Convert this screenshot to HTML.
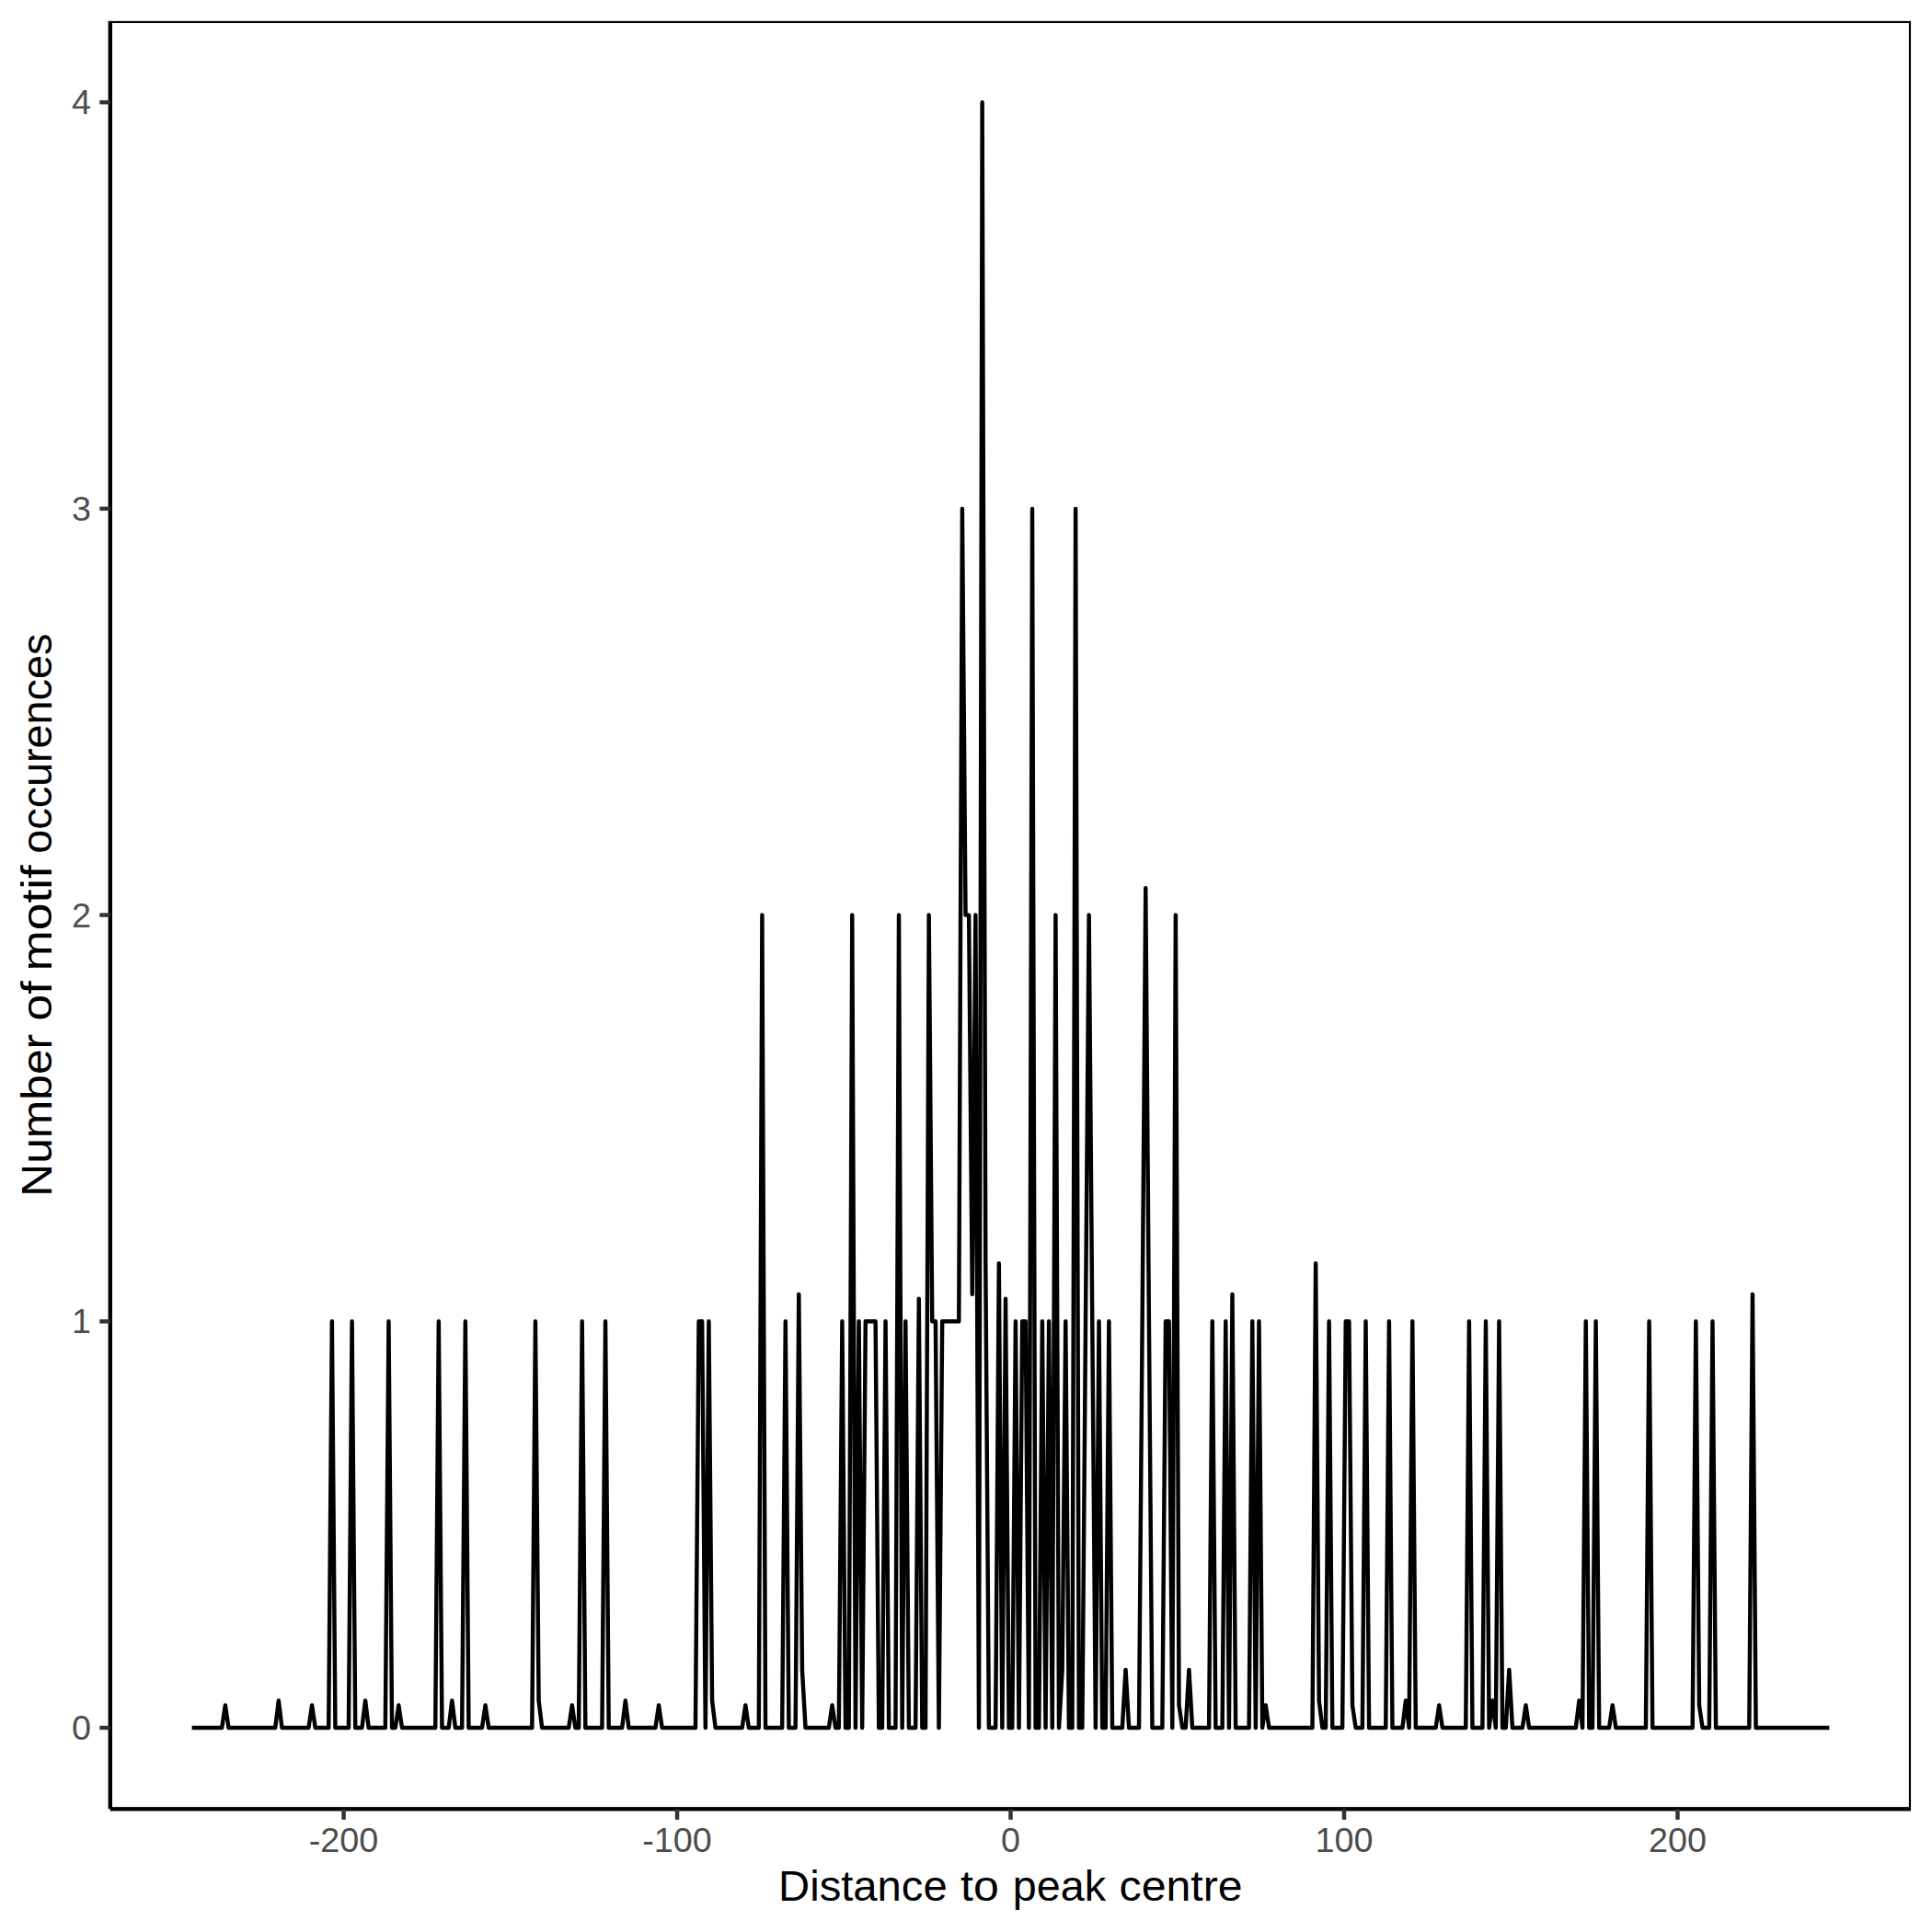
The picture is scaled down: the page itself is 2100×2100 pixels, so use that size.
<!DOCTYPE html>
<html><head><meta charset="utf-8"><title>Motif occurrences</title>
<style>
html,body{margin:0;padding:0;background:#fff;}
body{width:2100px;height:2100px;overflow:hidden;}
svg{display:block;}
svg text{font-family:"Liberation Sans",sans-serif;}
</style></head><body>
<svg width="2100" height="2100" viewBox="0 0 2100 2100">
<rect x="0" y="0" width="2100" height="2100" fill="#ffffff"/>
<rect x="119.8" y="22.9" width="1957.2" height="2.15" fill="#000"/>
<rect x="2074.9" y="22.9" width="2.15" height="1944.5" fill="#000"/>
<polyline fill="none" stroke="#000" stroke-width="4.45" stroke-linejoin="round" stroke-linecap="butt" points="208.60,1878.00 241.22,1878.00 244.85,1853.46 248.47,1878.00 299.22,1878.00 302.84,1848.55 306.47,1878.00 335.46,1878.00 339.09,1853.46 342.71,1878.00 357.21,1878.00 360.84,1436.30 364.46,1878.00 378.96,1878.00 382.59,1436.30 386.21,1878.00 393.46,1878.00 397.08,1848.55 400.71,1878.00 418.83,1878.00 422.46,1436.30 426.08,1878.00 429.71,1878.00 433.33,1853.46 436.96,1878.00 473.20,1878.00 476.83,1436.30 480.45,1878.00 487.70,1878.00 491.33,1848.55 494.95,1878.00 502.20,1878.00 505.83,1436.30 509.45,1878.00 523.95,1878.00 527.57,1853.46 531.20,1878.00 578.32,1878.00 581.94,1436.30 585.57,1848.55 589.19,1878.00 618.19,1878.00 621.82,1853.46 625.44,1878.00 629.07,1878.00 632.69,1436.30 636.31,1878.00 654.44,1878.00 658.06,1436.30 661.69,1878.00 676.19,1878.00 679.81,1848.55 683.44,1878.00 712.43,1878.00 716.06,1853.46 719.68,1878.00 755.93,1878.00 759.55,1436.30 763.18,1436.30 766.80,1878.00 770.43,1436.30 774.05,1848.55 777.68,1878.00 806.68,1878.00 810.30,1853.46 813.92,1878.00 824.80,1878.00 828.42,994.60 832.05,1878.00 850.17,1878.00 853.80,1436.30 857.42,1878.00 864.67,1878.00 868.30,1406.85 871.92,1814.90 875.54,1878.00 900.92,1878.00 904.54,1853.46 908.17,1878.00 911.79,1878.00 915.42,1436.30 919.04,1878.00 922.67,1878.00 926.29,994.60 929.92,1878.00 933.54,1436.30 937.16,1878.00 940.79,1436.30 944.41,1436.30 948.04,1436.30 951.66,1436.30 955.29,1878.00 958.91,1878.00 962.54,1436.30 966.16,1878.00 973.41,1878.00 977.04,994.60 980.66,1878.00 984.29,1436.30 987.91,1878.00 995.16,1878.00 998.78,1411.76 1002.41,1878.00 1006.03,1878.00 1009.66,994.60 1013.28,1436.30 1016.91,1436.30 1020.53,1878.00 1024.16,1436.30 1027.78,1436.30 1031.41,1436.30 1035.03,1436.30 1038.66,1436.30 1042.28,1436.30 1045.91,552.90 1049.53,994.60 1053.16,994.60 1056.78,1406.85 1060.40,994.60 1064.03,1878.00 1067.65,111.20 1071.28,1373.20 1074.90,1878.00 1082.15,1878.00 1085.78,1373.20 1089.40,1878.00 1093.03,1411.76 1096.65,1878.00 1100.28,1878.00 1103.90,1436.30 1107.53,1878.00 1111.15,1436.30 1114.77,1436.30 1118.40,1878.00 1122.02,552.90 1125.65,1878.00 1129.27,1878.00 1132.90,1436.30 1136.52,1878.00 1140.15,1436.30 1143.77,1878.00 1147.40,994.60 1151.02,1878.00 1154.65,1814.90 1158.27,1436.30 1161.90,1878.00 1165.52,1878.00 1169.15,552.90 1172.77,1878.00 1176.39,1878.00 1180.02,1436.30 1183.64,994.60 1187.27,1436.30 1190.89,1878.00 1194.52,1436.30 1198.14,1878.00 1201.77,1878.00 1205.39,1436.30 1209.02,1878.00 1219.89,1878.00 1223.52,1814.90 1227.14,1878.00 1238.01,1878.00 1241.64,1436.30 1245.26,965.15 1248.89,1436.30 1252.51,1878.00 1263.39,1878.00 1267.01,1436.30 1270.64,1436.30 1274.26,1878.00 1277.89,994.60 1281.51,1853.46 1285.14,1878.00 1288.76,1878.00 1292.39,1814.90 1296.01,1878.00 1314.13,1878.00 1317.76,1436.30 1321.38,1878.00 1328.63,1878.00 1332.26,1436.30 1335.88,1878.00 1339.51,1406.85 1343.13,1878.00 1357.63,1878.00 1361.25,1436.30 1364.88,1878.00 1368.50,1436.30 1372.13,1878.00 1375.75,1853.46 1379.38,1878.00 1426.50,1878.00 1430.12,1373.20 1433.75,1848.55 1437.37,1878.00 1441.00,1878.00 1444.62,1436.30 1448.25,1878.00 1459.12,1878.00 1462.75,1436.30 1466.37,1436.30 1470.00,1853.46 1473.62,1878.00 1480.87,1878.00 1484.49,1436.30 1488.12,1878.00 1506.24,1878.00 1509.87,1436.30 1513.49,1878.00 1524.37,1878.00 1527.99,1848.55 1531.62,1878.00 1535.24,1436.30 1538.86,1878.00 1560.61,1878.00 1564.24,1853.46 1567.86,1878.00 1593.24,1878.00 1596.86,1436.30 1600.48,1878.00 1611.36,1878.00 1614.98,1436.30 1618.61,1878.00 1622.23,1848.55 1625.86,1878.00 1629.48,1436.30 1633.11,1878.00 1636.73,1878.00 1640.36,1814.90 1643.98,1878.00 1654.86,1878.00 1658.48,1853.46 1662.10,1878.00 1712.85,1878.00 1716.48,1848.55 1720.10,1878.00 1723.72,1436.30 1727.35,1878.00 1730.97,1878.00 1734.60,1436.30 1738.22,1878.00 1749.10,1878.00 1752.72,1853.46 1756.35,1878.00 1788.97,1878.00 1792.59,1436.30 1796.22,1878.00 1839.71,1878.00 1843.34,1436.30 1846.96,1853.46 1850.59,1878.00 1857.84,1878.00 1861.46,1436.30 1865.09,1878.00 1901.33,1878.00 1904.96,1406.85 1908.58,1878.00 1988.33,1878.00"/>
<rect x="117.6" y="22.9" width="4.4" height="1943.3" fill="#000"/>
<rect x="119.8" y="1964.1" width="1957.2" height="4.4" fill="#000"/>
<rect x="108.3" y="1875.78" width="11.5" height="4.45" fill="#333"/>
<rect x="108.3" y="1434.08" width="11.5" height="4.45" fill="#333"/>
<rect x="108.3" y="992.38" width="11.5" height="4.45" fill="#333"/>
<rect x="108.3" y="550.67" width="11.5" height="4.45" fill="#333"/>
<rect x="108.3" y="108.98" width="11.5" height="4.45" fill="#333"/>
<rect x="371.33" y="1966.4" width="4.45" height="11.5" fill="#333"/>
<rect x="733.80" y="1966.4" width="4.45" height="11.5" fill="#333"/>
<rect x="1096.28" y="1966.4" width="4.45" height="11.5" fill="#333"/>
<rect x="1458.75" y="1966.4" width="4.45" height="11.5" fill="#333"/>
<rect x="1821.23" y="1966.4" width="4.45" height="11.5" fill="#333"/>
<text x="99.0" y="1891.10" text-anchor="end" font-size="36.67" fill="#4d4d4d" transform="translate(99.0,0) scale(1.03,1) translate(-99.0,0)">0</text>
<text x="99.0" y="1449.40" text-anchor="end" font-size="36.67" fill="#4d4d4d" transform="translate(99.0,0) scale(1.03,1) translate(-99.0,0)">1</text>
<text x="99.0" y="1007.70" text-anchor="end" font-size="36.67" fill="#4d4d4d" transform="translate(99.0,0) scale(1.03,1) translate(-99.0,0)">2</text>
<text x="99.0" y="566.00" text-anchor="end" font-size="36.67" fill="#4d4d4d" transform="translate(99.0,0) scale(1.03,1) translate(-99.0,0)">3</text>
<text x="99.0" y="124.30" text-anchor="end" font-size="36.67" fill="#4d4d4d" transform="translate(99.0,0) scale(1.03,1) translate(-99.0,0)">4</text>
<text x="373.56" y="2013.2" text-anchor="middle" font-size="36.67" fill="#4d4d4d" transform="translate(373.56,0) scale(1.03,1) translate(-373.56,0)">-200</text>
<text x="736.03" y="2013.2" text-anchor="middle" font-size="36.67" fill="#4d4d4d" transform="translate(736.03,0) scale(1.03,1) translate(-736.03,0)">-100</text>
<text x="1098.50" y="2013.2" text-anchor="middle" font-size="36.67" fill="#4d4d4d" transform="translate(1098.50,0) scale(1.03,1) translate(-1098.50,0)">0</text>
<text x="1460.97" y="2013.2" text-anchor="middle" font-size="36.67" fill="#4d4d4d" transform="translate(1460.97,0) scale(1.03,1) translate(-1460.97,0)">100</text>
<text x="1823.45" y="2013.2" text-anchor="middle" font-size="36.67" fill="#4d4d4d" transform="translate(1823.45,0) scale(1.03,1) translate(-1823.45,0)">200</text>
<text y="2065.9" font-size="45.83" fill="#000"><tspan x="846.06" textLength="183.68" lengthAdjust="spacingAndGlyphs">Distance</tspan> <tspan x="1044.00" textLength="41.73" lengthAdjust="spacingAndGlyphs">to</tspan> <tspan x="1100.76" textLength="101.26" lengthAdjust="spacingAndGlyphs">peak</tspan> <tspan x="1216.55" textLength="134.12" lengthAdjust="spacingAndGlyphs">centre</tspan></text>
<text transform="translate(56.05,1297.5) rotate(-90)" y="0" font-size="45.83" fill="#000"><tspan x="-3.25" textLength="176.84" lengthAdjust="spacingAndGlyphs">Number</tspan> <tspan x="187.87" textLength="43.33" lengthAdjust="spacingAndGlyphs">of</tspan> <tspan x="242.01" textLength="115.37" lengthAdjust="spacingAndGlyphs">motif</tspan> <tspan x="369.78" textLength="239.05" lengthAdjust="spacingAndGlyphs">occurences</tspan></text>
</svg>
</body></html>
